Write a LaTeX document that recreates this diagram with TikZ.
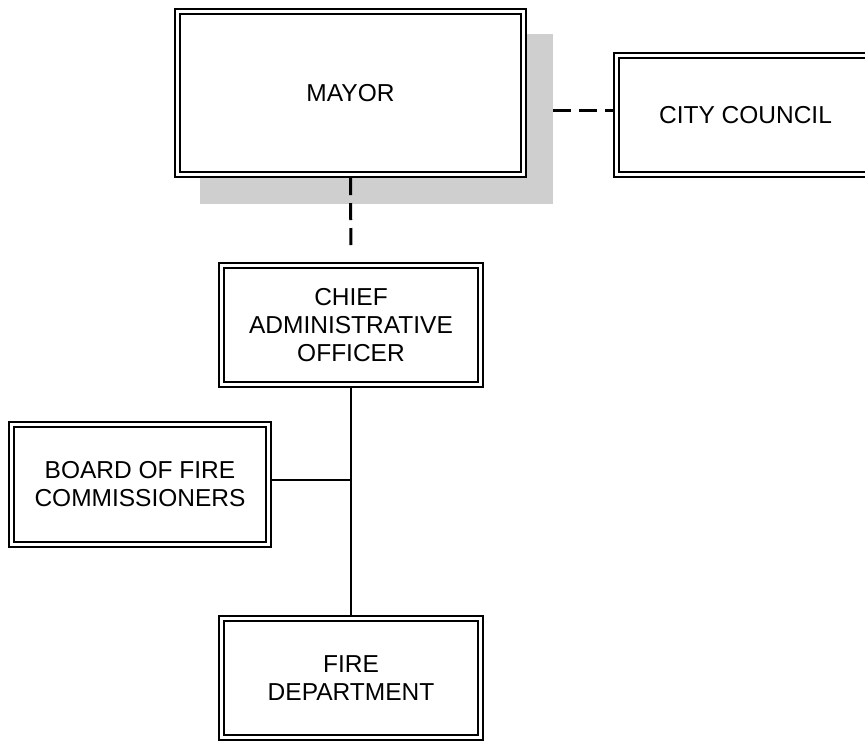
\documentclass[tikz,border=0pt]{standalone}
\usepackage{fontspec}
\setmainfont{Liberation Sans}
\definecolor{shadowgray}{RGB}{207,207,207}
\pgfdeclarelayer{back}
\pgfdeclarelayer{shade}
\pgfsetlayers{back,shade,main}
\begin{document}
\begin{tikzpicture}[x=1pt,y=-1pt,
  orgbox/.style={draw=black, fill=white, double=white, line width=1.8pt,
    double distance=3.5pt, inner sep=0pt, outer sep=3.55pt,
    align=center, font=\fontsize{24.5}{28}\selectfont},
  dashline/.style={line width=3pt, dash pattern=on 18pt off 8pt},
  solidline/.style={line width=1.6pt}]
\path[use as bounding box, clip] (0,0) rectangle (865,740);
\node[orgbox, minimum width=345.9pt, minimum height=162.9pt] (mayor) at (350.5,93) {MAYOR};
\node[orgbox, minimum width=257.9pt, minimum height=118.9pt] (council) at (745.5,115) {CITY COUNCIL};
\node[orgbox, minimum width=258.9pt, minimum height=118.9pt] (cao) at (351,325) {CHIEF\\ADMINISTRATIVE\\OFFICER};
\node[orgbox, minimum width=256.9pt, minimum height=119.9pt] (board) at (140,484.5) {BOARD OF FIRE\\COMMISSIONERS};
\node[orgbox, minimum width=258.9pt, minimum height=118.9pt] (fire) at (351,678) {FIRE\\DEPARTMENT};
\begin{pgfonlayer}{back}
\coordinate (h) at ([yshift=5pt]council.west);
\draw[dashline] (h -| mayor.east) -- (h);
\draw[solidline] (cao.south) -- (fire.north);
\coordinate (j) at (351,480);
\draw[solidline] (j -| board.east) -- (j);
\end{pgfonlayer}
\begin{pgfonlayer}{shade}
\fill[shadowgray] ([xshift=26pt,yshift=-26pt]mayor.south west) rectangle ([xshift=26pt,yshift=-26pt]mayor.north east);
\end{pgfonlayer}
\draw[line width=3pt, dash pattern=on 17pt off 8pt, shorten >=15pt] (mayor.south) -- (cao.north);
\end{tikzpicture}
\end{document}
